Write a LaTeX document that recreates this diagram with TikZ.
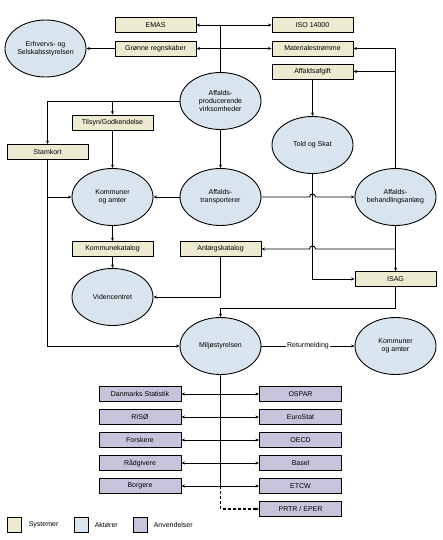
\documentclass[tikz,border=0pt]{standalone}
\usepackage{fontspec}
\setmainfont{Liberation Sans}
\usetikzlibrary{shapes.geometric,arrows.meta,calc}

\definecolor{sysc}{RGB}{236,234,208}
\definecolor{aktc}{RGB}{218,228,238}
\definecolor{anvc}{RGB}{198,196,218}

\begin{document}
\begin{tikzpicture}[x=1pt,y=-1pt,
	font=\fontsize{7}{8}\selectfont,
	line width=0.9pt,
	>={Stealth[length=3.5pt,width=3pt]},
	sys/.style={draw,fill=sysc,minimum width=81,minimum height=15,inner sep=0pt},
	akt/.style={draw,ellipse,fill=aktc,minimum width=81,minimum height=57,inner sep=0pt,align=center},
	anv/.style={draw,fill=anvc,minimum width=82,minimum height=15,inner sep=0pt},
	legbox/.style={draw,minimum width=14,minimum height=15,inner sep=0pt}]
	\useasboundingbox (0,0) rectangle (443,540);

	\node[sys] (emas) at (155.5,25) {EMAS};
	\node[sys] (iso) at (312.5,25) {ISO 14000};
	\node[sys] (groen) at (155.5,48.5) {Grønne regnskaber};
	\node[sys] (mat) at (312.5,48.5) {Materialestrømme};
	\node[sys] (afgift) at (312.5,71.5) {Affaldsafgift};
	\node[akt] (erhverv) at (45.5,48.5) {Erhvervs- og\\Selskabsstyrelsen};
	\node[akt] (prod) at (220.5,101) {Affalds-\\producerende\\virksomheder};
	\node[sys] (tilsyn) at (112.5,122.5) {Tilsyn/Godkendelse};
	\node[akt] (told) at (312.5,145) {Told og Skat};
	\node[sys] (stam) at (47.5,152) {Stamkort};
	\node[akt] (komm) at (112.5,197) {Kommuner\\og amter};
	\node[akt] (trans) at (220.5,197) {Affalds-\\transporterer};
	\node[akt] (behand) at (395.5,197) {Affalds-\\behandlingsanlæg};
	\node[sys] (kkat) at (112.5,249) {Kommunekatalog};
	\node[sys] (akat) at (220.5,249) {Anlægskatalog};
	\node[sys] (isag) at (395.5,279) {ISAG};
	\node[akt] (viden) at (112.5,297) {Videncentret};
	\node[akt] (miljo) at (220.5,346) {Miljøstyrelsen};
	\node[akt] (komm2) at (395.5,346) {Kommuner\\og amter};

	\node[anv] (dst) at (140,394) {Danmarks Statistik};
	\node[anv] (riso) at (140,417) {RISØ};
	\node[anv] (forsk) at (140,440) {Forskere};
	\node[anv] (raad) at (140,463) {Rådgivere};
	\node[anv] (borg) at (140,486) {Borgere};
	\node[anv] (ospar) at (300.5,394) {OSPAR};
	\node[anv] (euro) at (300.5,417) {EuroStat};
	\node[anv] (oecd) at (300.5,440) {OECD};
	\node[anv] (basel) at (300.5,463) {Basel};
	\node[anv] (etcw) at (300.5,486) {ETCW};
	\node[anv] (prtr) at (300.5,509) {PRTR / EPER};

	\draw (prod.north) -- (prod.north |- emas.east);
	\draw[<->] (emas) -- (iso);
	\draw[<->] (groen) -- (mat);
	\draw[->] (groen) -- (erhverv);
	\draw[->] (behand.north) |- (mat.east);
	\draw[->] (behand.north |- afgift.east) -- (afgift.east);
	\draw[->] (afgift) -- (told);
	\draw[->] (prod.west) -| (stam.north);
	\draw[->] (prod.west -| tilsyn.north) -- (tilsyn.north);
	\draw[->] (tilsyn) -- (komm);
	\draw[->] (prod) -- (trans);
	\draw[->] (stam.south) |- (miljo.west);
	\draw[->] (stam.south |- komm.west) -- (komm.west);
	\draw[->] (trans) -- (komm);
	\draw[->] (trans.east) -- ($(told.south |- trans.east)+(-3,0)$) .. controls +(0,-4) and +(0,-4) .. ($(told.south |- trans.east)+(3,0)$) -- (behand.west);
	\draw[->] (behand) -- (isag);
	\draw[->] (behand.south |- akat.east) -- ($(told.south |- akat.east)+(3,0)$) .. controls +(0,-4) and +(0,-4) .. ($(told.south |- akat.east)+(-3,0)$) -- (akat.east);
	\draw[->] (told.south) |- (isag.west);
	\draw[->] (komm) -- (kkat);
	\draw[->] (kkat) -- (viden);
	\draw[->] (akat.south) |- (viden.east);
	\draw[->] (isag.south) -- ++(0,21) -| (miljo.north);
	\draw[->] (miljo) -- node[fill=white,inner sep=1pt] {Returmelding} (komm2);

	\draw (miljo.south) -- (miljo.south |- borg.east);
	\draw[->,dash pattern=on 3pt off 2pt,line width=1.2pt] (miljo.south |- borg.east) |- (prtr.west);
	\draw[<->] (dst) -- (ospar);
	\draw[<->] (riso) -- (euro);
	\draw[<->] (forsk) -- (oecd);
	\draw[<->] (raad) -- (basel);
	\draw[<->] (borg) -- (etcw);

	\node[legbox,fill=sysc] (lsys) at (14.5,525) {};
	\node[anchor=west] (lsyst) at (25,525) {Systemer};
	\node[legbox,fill=aktc] (lakt) at (81,525) {};
	\node[anchor=west] (laktt) at (91,525) {Aktører};
	\node[legbox,fill=anvc] (lanv) at (140,525) {};
	\node[anchor=west] (lanvt) at (150,525) {Anvendelser};
\end{tikzpicture}
\end{document}
